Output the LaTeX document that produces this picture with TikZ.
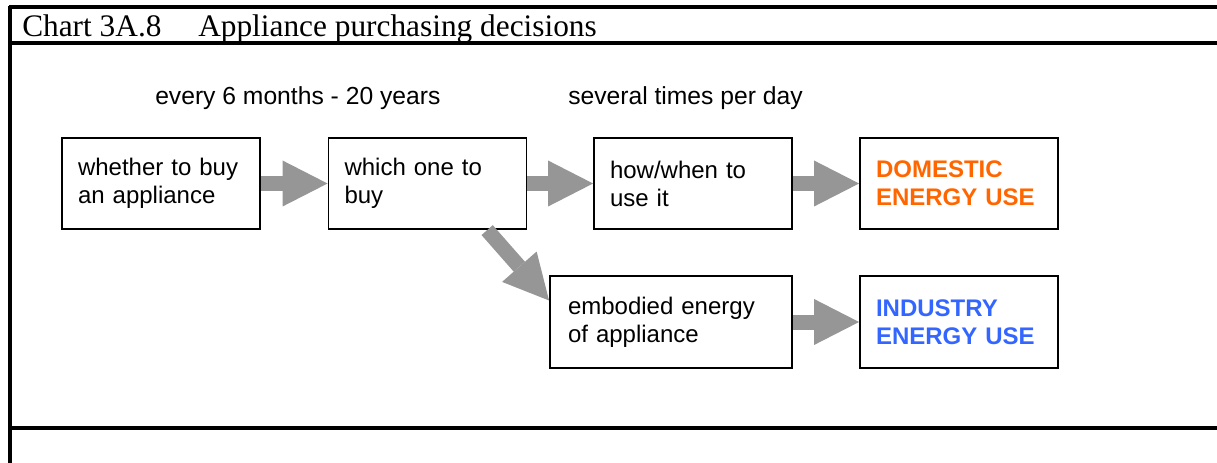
\documentclass[tikz,border=0pt]{standalone}
\usepackage{fontspec}
\setmainfont{Liberation Serif}
\newfontfamily\arialfont{Liberation Sans}
\usetikzlibrary{arrows.meta}

\definecolor{arrowgray}{RGB}{150,150,150}
\definecolor{domorange}{RGB}{255,102,0}
\definecolor{indblue}{RGB}{51,102,255}

\tikzset{
  box/.style={draw, line width=1.4pt, inner xsep=12pt, inner ysep=0pt,
    text width=124.5pt, minimum height=68.5pt, align=left,
    font=\arialfont\fontsize{18}{21}\selectfont},
  widebox/.style={box, inner xsep=13.5pt, text width=154.5pt},
  boldbox/.style={box, font=\arialfont\bfseries\fontsize{18}{21}\selectfont},
  bigarrow/.style={draw=arrowgray, line width=11.25pt,
    -{Triangle[length=33.75pt, width=34.5pt, line width=0pt]}},
  frameline/.style={line width=2.4pt},
  lbl/.style={anchor=base west, inner sep=0pt, font=\arialfont\fontsize{18.5}{21}\selectfont}
}

\begin{document}
\begin{tikzpicture}[x=0.75pt, y=-0.75pt]
    \useasboundingbox (0,0) rectangle (1217,463);

    % Rahmen
    \draw[frameline] (10,6) -- (10,463);
    \draw[frameline] (9,7) -- (1217,7);
    \draw[frameline] (10,43) -- (1217,43);
    \draw[frameline] (10,428) -- (1217,428);

    % Titel
    \node[anchor=base west, inner sep=0pt, font=\fontsize{23.5}{27}\selectfont] (title) at (22,37)
        {\makebox[132pt][l]{Chart 3A.8}Appliance purchasing decisions};

    % Zeitangaben
    \node[lbl] (lblyears) at (155,105) {every 6 months - 20 years};
    \node[lbl] (lblday) at (568,105) {several times per day};

    % Obere Reihe
    \node[box] (buy) at (161,183.5) {whether to buy\\an appliance};
    \node[box] (which) at (427.5,183.5) {which one to\\buy};
    \node[box] (use) at (693,183.5) {how/when to\\use it};
    \node[boldbox, text=domorange] (domestic) at (959,183.5) {DOMESTIC\\ENERGY USE};

    % Untere Reihe
    \node[widebox] (embodied) at (671,322) {embodied energy\\of appliance};
    \node[boldbox, text=indblue] (industry) at (959,322) {INDUSTRY\\ENERGY USE};

    % Pfeile
    \draw[bigarrow] (buy) -- (which);
    \draw[bigarrow] (which) -- (use);
    \draw[bigarrow] (use) -- (domestic);
    \draw[bigarrow] (which.-38) -- (embodied.170);
    \draw[bigarrow] (embodied) -- (industry);
\end{tikzpicture}
\end{document}
